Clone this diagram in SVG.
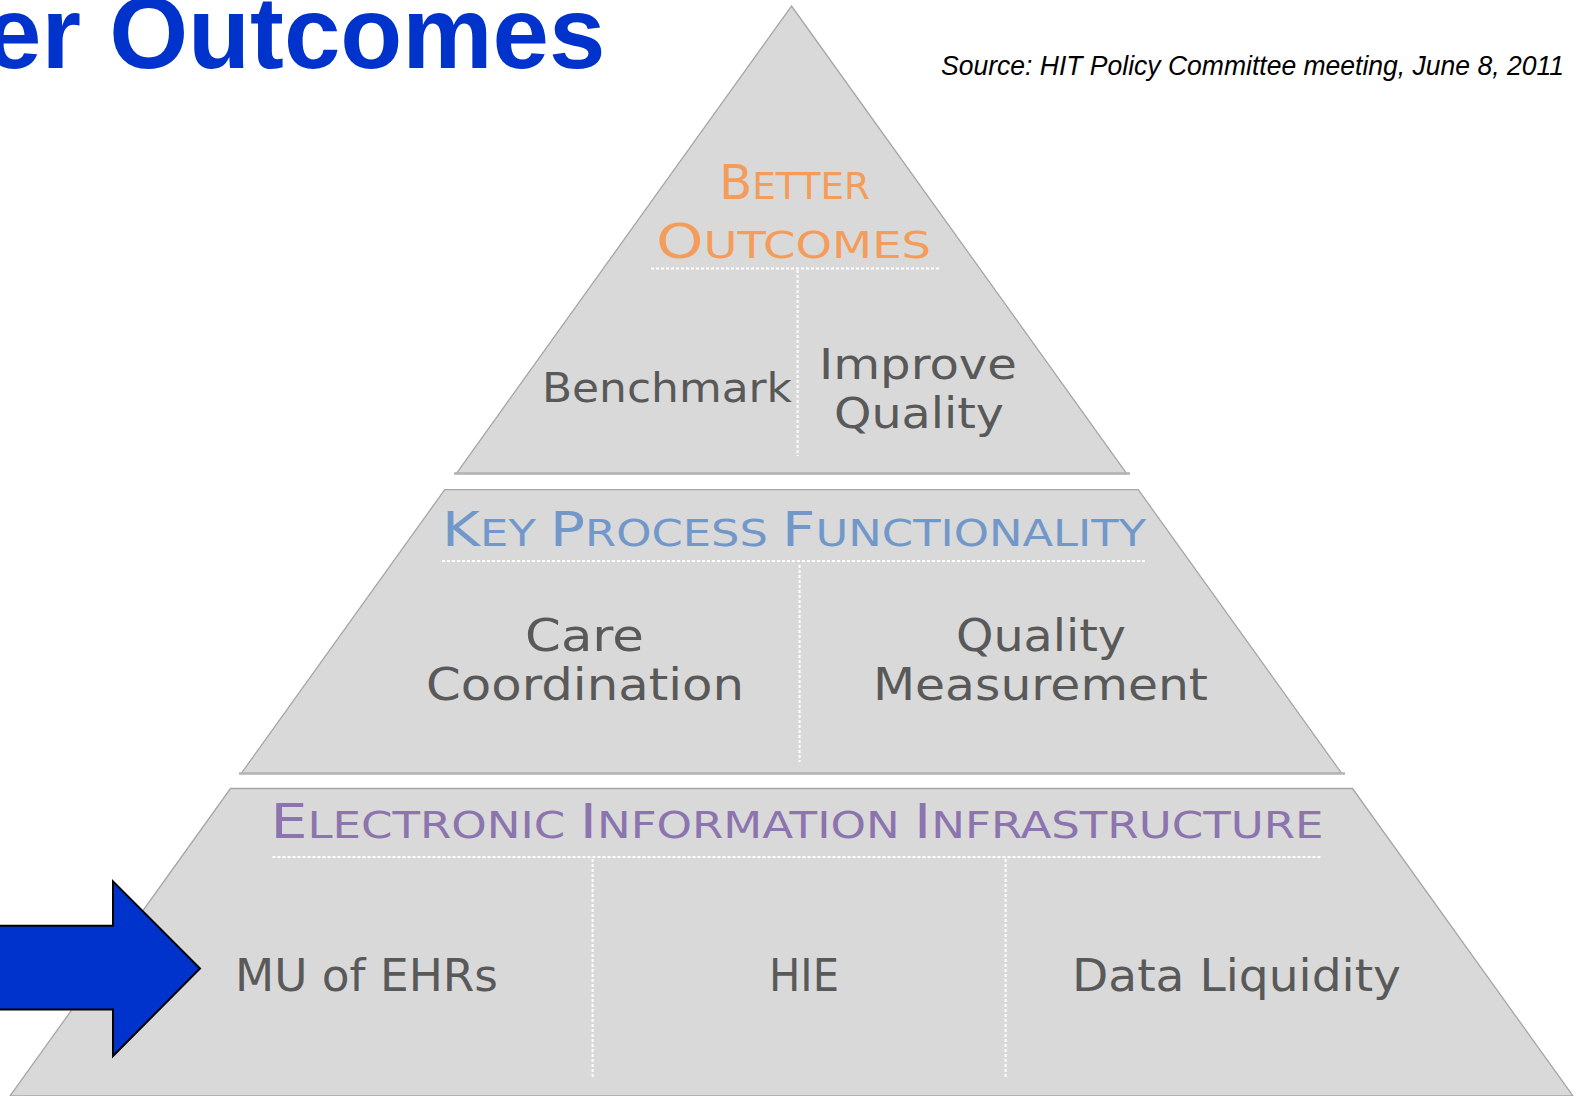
<svg xmlns="http://www.w3.org/2000/svg" width="1583" height="1096" viewBox="0 0 1583 1096">
<style>
.tier{fill:#d9d9d9;stroke:#a6a6a6;stroke-width:1.3}
.base{stroke:#b3b3b3;stroke-width:2.5}
.dash{stroke:#ffffff;stroke-width:2;stroke-dasharray:3 2;fill:none}
.lbl{font-family:"DejaVu Sans","Liberation Sans",sans-serif;fill:#595959}
.hdr{font-family:"DejaVu Sans","Liberation Sans",sans-serif}
.big{font-size:48px}
.sm{font-size:37px}
</style>
<rect width="1583" height="1096" fill="#ffffff"/>
<g id="title">
<text x="-15" y="68" font-family="Liberation Sans, Arial, sans-serif" font-weight="bold" font-size="101.5" fill="#0033cc">er Outcomes</text>
</g>
<g id="source">
<text x="941" y="75" font-family="Liberation Sans, Arial, sans-serif" font-style="italic" font-size="27" fill="#000000" textLength="623" lengthAdjust="spacingAndGlyphs">Source: HIT Policy Committee meeting, June 8, 2011</text>
</g>
<g id="tier-outcomes">
<polygon class="tier" points="791.5,6 1126.7,473.5 456.3,473.5"/>
<line class="base" x1="454" y1="473.5" x2="1130" y2="473.5"/>
<text class="hdr" x="719" y="199" fill="#f49d5b" textLength="151" lengthAdjust="spacingAndGlyphs"><tspan class="big">B</tspan><tspan class="sm">ETTER</tspan></text>
<text class="hdr" x="656" y="257.5" fill="#f49d5b" textLength="275" lengthAdjust="spacingAndGlyphs"><tspan class="big">O</tspan><tspan class="sm">UTCOMES</tspan></text>
<line class="dash" x1="651" y1="268.5" x2="941" y2="268.5"/>
<line class="dash" x1="797.6" y1="270" x2="797.6" y2="456"/>
<text class="lbl" x="542" y="402" font-size="40" textLength="250" lengthAdjust="spacingAndGlyphs">Benchmark</text>
<text class="lbl" x="819" y="379" font-size="42" textLength="198" lengthAdjust="spacingAndGlyphs">Improve</text>
<text class="lbl" x="834" y="428" font-size="42" textLength="170" lengthAdjust="spacingAndGlyphs">Quality</text>
</g>
<g id="tier-process">
<polygon class="tier" points="444.7,489.7 1138.3,489.7 1341.7,773.4 241.3,773.4"/>
<line class="base" x1="239" y1="773.4" x2="1345" y2="773.4"/>
<text class="hdr" x="442" y="546" fill="#7298c9" textLength="704" lengthAdjust="spacingAndGlyphs"><tspan class="big">K</tspan><tspan class="sm">EY </tspan><tspan class="big">P</tspan><tspan class="sm">ROCESS </tspan><tspan class="big">F</tspan><tspan class="sm">UNCTIONALITY</tspan></text>
<line class="dash" x1="442" y1="561" x2="1146" y2="561"/>
<line class="dash" x1="799.6" y1="565" x2="799.6" y2="762"/>
<text class="lbl" x="525" y="651" font-size="45" textLength="119" lengthAdjust="spacingAndGlyphs">Care</text>
<text class="lbl" x="426" y="699.5" font-size="45" textLength="318" lengthAdjust="spacingAndGlyphs">Coordination</text>
<text class="lbl" x="956" y="651" font-size="45" textLength="170" lengthAdjust="spacingAndGlyphs">Quality</text>
<text class="lbl" x="873" y="699.5" font-size="45" textLength="335" lengthAdjust="spacingAndGlyphs">Measurement</text>
</g>
<g id="tier-infrastructure">
<polygon class="tier" points="230.5,788.5 1352.5,788.5 1573,1096 10,1096"/>
<text class="hdr" x="270.5" y="838" fill="#8c74ae" textLength="1053" lengthAdjust="spacingAndGlyphs"><tspan class="big">E</tspan><tspan class="sm">LECTRONIC </tspan><tspan class="big">I</tspan><tspan class="sm">NFORMATION </tspan><tspan class="big">I</tspan><tspan class="sm">NFRASTRUCTURE</tspan></text>
<line class="dash" x1="272.5" y1="857" x2="1322.6" y2="857"/>
<line class="dash" x1="592.6" y1="859" x2="592.6" y2="1078"/>
<line class="dash" x1="1005.6" y1="859" x2="1005.6" y2="1078"/>
<text class="lbl" x="235" y="991" font-size="45" textLength="263" lengthAdjust="spacingAndGlyphs">MU of EHRs</text>
<text class="lbl" x="769" y="991" font-size="45" textLength="70" lengthAdjust="spacingAndGlyphs">HIE</text>
<text class="lbl" x="1072" y="991" font-size="45" textLength="329" lengthAdjust="spacingAndGlyphs">Data Liquidity</text>
</g>
<g id="connectors">
<polygon points="-5,925.8 113,925.8 113,881.4 200,968.5 113,1056 113,1009.6 -5,1009.6" fill="#0033cc" stroke="#000000" stroke-width="2"/>
</g>
</svg>
